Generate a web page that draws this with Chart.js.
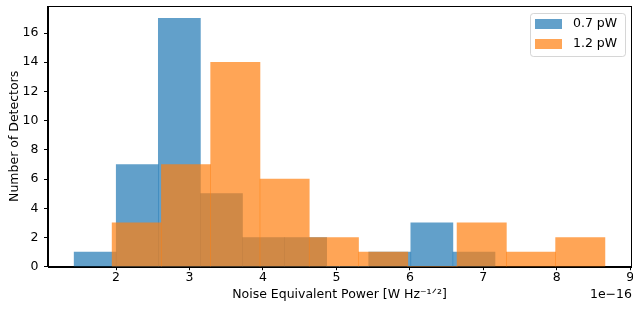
<!DOCTYPE html>
<html>
<head>
<meta charset="utf-8">
<script src="https://cdn.jsdelivr.net/npm/chart.js@4"></script>
<style>
  html, body { margin: 0; padding: 0; background: #fff; }
  canvas { display: block; }
</style>
</head>
<body>
<canvas id="histCanvas" width="633" height="311"></canvas>
<script>
// bin edges (units of 1e-16 W Hz^-1/2)
const lowEdges = [1.429, 2.002, 2.575, 3.148, 3.721, 4.294, 4.867, 5.440, 6.013, 6.586, 7.159];
const lowCounts = [1, 7, 17, 5, 2, 2, 0, 1, 3, 1];
const highEdges = [1.946, 2.617, 3.288, 3.959, 4.630, 5.301, 5.972, 6.643, 7.314, 7.985, 8.656];
const highCounts = [3, 7, 14, 6, 2, 1, 0, 3, 1, 2];
const seriesLabels = ['0.7 pW', '1.2 pW'];
const xTitle = 'Noise Equivalent Power [W Hz\u207B\u00B9\u141F\u00B2]';
const yTitle = 'Number of Detectors';
const offsetLabel = '1e\u221216';

const xMin = 1.066;
const xMax = 9.018;
const yMax = 17.85;

const toBars = (edges, counts) => counts.map((c, i) => ({ x: (edges[i] + edges[i + 1]) / 2, y: c }));

Chart.defaults.font.family = "'DejaVu Sans', sans-serif";
Chart.defaults.font.size = 12.5;
Chart.defaults.color = '#000000';

const framePlugin = {
  id: 'frame',
  afterDatasetsDraw(chart) {
    const { ctx, chartArea } = chart;
    ctx.save();
    ctx.strokeStyle = '#000000';
    ctx.lineWidth = 1;
    ctx.strokeRect(Math.round(chartArea.left) + 0.5, Math.round(chartArea.top) + 0.5,
      Math.round(chartArea.right - chartArea.left) - 1, Math.round(chartArea.bottom - chartArea.top));
    ctx.restore();
  }
};

const boxLegend = {
  id: 'boxLegend',
  afterDraw(chart) {
    const { ctx } = chart;
    const sets = chart.data.datasets;
    const left = 530.5, top = 13.5, w = 95, h = 43;
    ctx.save();
    ctx.beginPath();
    ctx.roundRect(left, top, w, h, 3);
    ctx.fillStyle = 'rgba(255,255,255,0.8)';
    ctx.fill();
    ctx.strokeStyle = 'rgba(204,204,204,0.8)';
    ctx.lineWidth = 1;
    ctx.stroke();
    ctx.font = "12.5px 'DejaVu Sans'";
    ctx.textBaseline = 'middle';
    ctx.textAlign = 'left';
    sets.forEach((ds, i) => {
      const y = 19 + i * 20;
      ctx.fillStyle = ds.backgroundColor;
      ctx.fillRect(535, y, 27, 10);
      ctx.fillStyle = '#000000';
      ctx.fillText(ds.label, 573, y + 5);
    });
    // scale offset text under the x axis
    ctx.textAlign = 'right';
    ctx.fillText(offsetLabel, 632, 294.5);
    ctx.restore();
  }
};

new Chart(document.querySelector('#histCanvas').getContext('2d'), {
  type: 'bar',
  data: {
    datasets: [
      {
        label: seriesLabels[0],
        data: toBars(lowEdges, lowCounts),
        backgroundColor: 'rgba(31, 119, 180, 0.7)',
        borderWidth: 0,
        xAxisID: 'x',
        order: 1,
        grouped: false,
        barPercentage: 1,
        categoryPercentage: 1
      },
      {
        label: seriesLabels[1],
        data: toBars(highEdges, highCounts),
        backgroundColor: 'rgba(255, 127, 14, 0.7)',
        borderWidth: 0,
        xAxisID: 'x2',
        order: 0,
        grouped: false,
        barPercentage: 1,
        categoryPercentage: 1
      }
    ]
  },
  options: {
    responsive: false,
    devicePixelRatio: 1,
    animation: false,
    layout: {
      padding: { top: 6, right: 1.5, left: 0, bottom: 0 }
    },
    plugins: {
      legend: { display: false },
      tooltip: { enabled: false }
    },
    scales: {
      x: {
        type: 'linear',
        position: 'bottom',
        offset: false,
        min: xMin,
        max: xMax,
        ticks: {
          stepSize: 1,
          includeBounds: false,
          padding: 0.5,
          maxRotation: 0,
          autoSkip: false
        },
        grid: {
          offset: false,
          drawOnChartArea: false,
          drawTicks: true,
          tickLength: 3.5,
          tickColor: '#000000'
        },
        border: { color: '#000000' },
        title: {
          display: true,
          text: xTitle,
          padding: { top: 0, bottom: 8.3 }
        },
        afterFit: (s) => {
          s.height = 44.3;
          s.paddingLeft = 0;
          s.paddingRight = 0;
        }
      },
      x2: {
        type: 'linear',
        display: false,
        offset: false,
        min: xMin,
        max: xMax,
        ticks: { stepSize: 1, includeBounds: false }
      },
      y: {
        min: 0,
        max: yMax,
        ticks: {
          stepSize: 2,
          includeBounds: false,
          padding: 5.5
        },
        grid: {
          drawOnChartArea: false,
          drawTicks: true,
          tickLength: 3.5,
          tickColor: '#000000'
        },
        border: { color: '#000000' },
        title: {
          display: true,
          text: yTitle,
          padding: { top: 7.5, bottom: 0 }
        },
        afterFit: (s) => {
          s.width = 47.5;
          s.paddingTop = 0;
          s.paddingBottom = 0;
        }
      }
    }
  },
  plugins: [framePlugin, boxLegend]
});
</script>
</body>
</html>
